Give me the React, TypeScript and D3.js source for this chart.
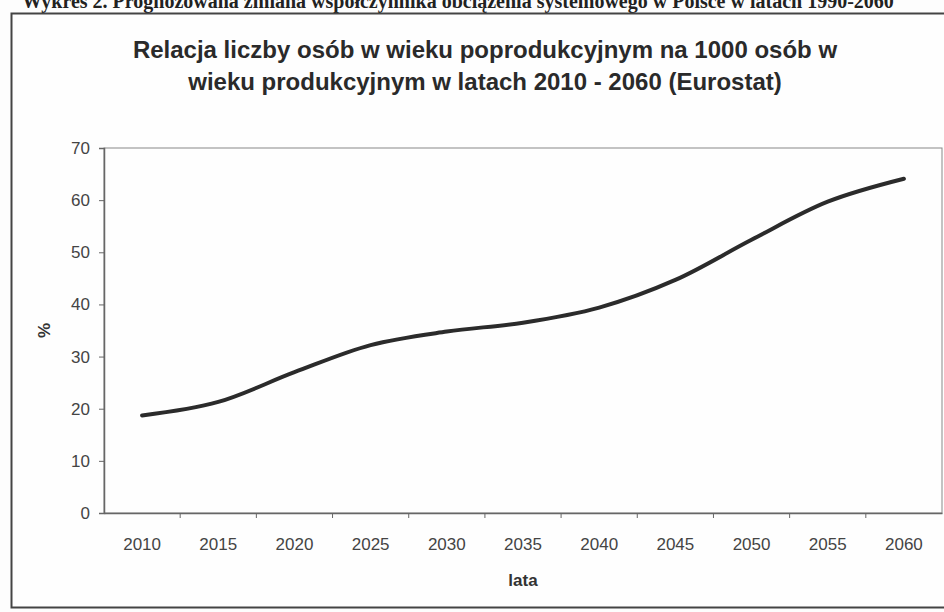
import { useEffect, useRef } from "react";
import * as d3 from "d3";

// Eurostat projection
const years = ["2010", "2015", "2020", "2025", "2030", "2035", "2040", "2045", "2050", "2055", "2060"];
const ratio = [18.7, 21.3, 27.0, 32.2, 34.8, 36.5, 39.4, 44.7, 52.4, 59.7, 64.1];
const yTicks = [0, 10, 20, 30, 40, 50, 60, 70];

const titleLines = [
  "Relacja liczby osób w wieku poprodukcyjnym na 1000 osób w",
  "wieku produkcyjnym w latach 2010 - 2060 (Eurostat)",
];
const caption = "Wykres 2. Prognozowana zmiana współczynnika obciążenia systemowego w Polsce w latach 1990-2060";

const WIDTH = 944;
const HEIGHT = 612;
const FONT = "'Liberation Sans', Arial, sans-serif";

function App() {
  const ref = useRef<SVGSVGElement | null>(null);

  useEffect(() => {
    if (!ref.current) return;
    const svg = d3.select(ref.current);
    svg.selectAll("*").remove();

    const MARGIN = { top: 148, right: 2, bottom: 99, left: 104 };

    svg.append("rect").attr("width", WIDTH).attr("height", HEIGHT).attr("fill", "#fdfdfd");

    // caption of the page above the chart, cut by the scan
    svg
      .append("text")
      .attr("x", 22)
      .attr("y", 8)
      .attr("font-family", "'Liberation Serif', 'Times New Roman', serif")
      .attr("font-weight", "bold")
      .attr("font-size", 20)
      .attr("fill", "#222")
      .text(caption);

    // chart frame
    svg
      .append("rect")
      .attr("x", 11.5)
      .attr("y", 13.5)
      .attr("width", WIDTH + 20)
      .attr("height", 594)
      .attr("fill", "#fefefe")
      .attr("stroke", "#444")
      .attr("stroke-width", 2);

    const x = d3
      .scaleBand<string>()
      .domain(years)
      .range([MARGIN.left, WIDTH - MARGIN.right])
      .padding(0);

    const y = d3
      .scaleLinear()
      .domain([0, 70])
      .range([HEIGHT - MARGIN.bottom, MARGIN.top]);

    // title
    svg
      .append("g")
      .selectAll("text")
      .data(titleLines)
      .join("text")
      .attr("x", 485)
      .attr("y", (_, i) => 58 + i * 32)
      .attr("text-anchor", "middle")
      .attr("font-family", FONT)
      .attr("font-weight", "bold")
      .attr("font-size", 24)
      .attr("fill", "#2a2a2a")
      .text((d) => d);

    // plot border (top / right)
    svg
      .append("rect")
      .attr("x", MARGIN.left)
      .attr("y", y(70))
      .attr("width", WIDTH - MARGIN.right - MARGIN.left)
      .attr("height", y(0) - y(70))
      .attr("fill", "none")
      .attr("stroke", "#888")
      .attr("stroke-width", 1);

    // Y axis
    const yAxis = svg
      .append("g")
      .attr("transform", `translate(${MARGIN.left},0)`)
      .call(d3.axisLeft(y).tickValues(yTicks).tickSize(5).tickPadding(9));
    yAxis.select(".domain").attr("stroke", "#666").attr("stroke-width", 1.5);
    yAxis.selectAll(".tick line").attr("stroke", "#666");
    yAxis
      .selectAll("text")
      .attr("font-family", FONT)
      .attr("font-size", 17)
      .attr("fill", "#444");

    // X axis, ticks on category boundaries
    const xAxis = svg
      .append("g")
      .attr("transform", `translate(0,${y(0)})`)
      .call(d3.axisBottom(x).tickSize(0).tickPadding(25));
    xAxis.select(".domain").attr("stroke", "#666").attr("stroke-width", 1.5);
    xAxis
      .selectAll("text")
      .attr("font-family", FONT)
      .attr("font-size", 17)
      .attr("fill", "#444");
    svg
      .append("g")
      .selectAll("line")
      .data(years.slice(1))
      .join("line")
      .attr("x1", (d) => x(d) || 0)
      .attr("x2", (d) => x(d) || 0)
      .attr("y1", y(0))
      .attr("y2", y(0) + 5)
      .attr("stroke", "#666");

    // axis titles
    svg
      .append("text")
      .attr("transform", `translate(50,${(y(0) + y(70)) / 2}) rotate(-90)`)
      .attr("text-anchor", "middle")
      .attr("font-family", FONT)
      .attr("font-weight", "bold")
      .attr("font-size", 17)
      .attr("fill", "#333")
      .text("%");

    svg
      .append("text")
      .attr("x", (MARGIN.left + WIDTH - MARGIN.right) / 2)
      .attr("y", 586)
      .attr("text-anchor", "middle")
      .attr("font-family", FONT)
      .attr("font-weight", "bold")
      .attr("font-size", 17)
      .attr("fill", "#333")
      .text("lata");

    // smoothed line
    const line = d3
      .line<number>()
      .x((_, i) => (x(years[i]) || 0) + x.bandwidth() / 2)
      .y((d) => y(d))
      .curve(d3.curveCatmullRom.alpha(0.5));

    svg
      .append("path")
      .datum(ratio)
      .attr("d", line)
      .attr("fill", "none")
      .attr("stroke", "#2b2b2b")
      .attr("stroke-width", 4)
      .attr("stroke-linecap", "round")
      .attr("stroke-linejoin", "round");
  }, []);

  return (
    <svg
      ref={ref}
      width={WIDTH}
      height={HEIGHT}
      style={{ position: "absolute", left: 0, top: 0, display: "block" }}
    />
  );
}

export default App;
